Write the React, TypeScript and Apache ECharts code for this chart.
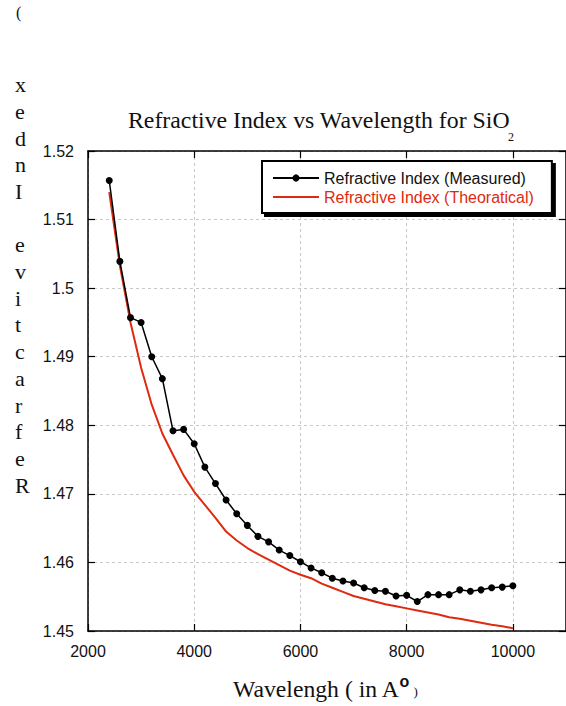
import React, { useEffect, useRef } from 'react';
import * as echarts from 'echarts';

const wavelengths = [
  2400, 2600, 2800, 3000, 3200, 3400, 3600, 3800, 4000, 4200,
  4400, 4600, 4800, 5000, 5200, 5400, 5600, 5800, 6000, 6200,
  6400, 6600, 6800, 7000, 7200, 7400, 7600, 7800, 8000, 8200,
  8400, 8600, 8800, 9000, 9200, 9400, 9600, 9800, 10000,
];

const measured = [
  1.5157, 1.5039, 1.4957, 1.4950, 1.4900, 1.4868, 1.4792, 1.4794, 1.4773, 1.4739,
  1.4715, 1.4691, 1.4671, 1.4654, 1.4638, 1.4630, 1.4618, 1.4610, 1.4601, 1.4592,
  1.4585, 1.4577, 1.4573, 1.4570, 1.4563, 1.4559, 1.4558, 1.4551, 1.4552, 1.4543,
  1.4553, 1.4553, 1.4553, 1.4560, 1.4558, 1.4560, 1.4563, 1.4564, 1.4566,
];

const theoretical = [
  1.5140, 1.5033, 1.4950, 1.4884, 1.4830, 1.4788, 1.4757, 1.4727, 1.4703, 1.4684,
  1.4665, 1.4645, 1.4632, 1.4621, 1.4612, 1.4604, 1.4596, 1.4588, 1.4582, 1.4577,
  1.4569, 1.4563, 1.4557, 1.4551, 1.4547, 1.4543, 1.4539, 1.4536, 1.4533, 1.4530,
  1.4527, 1.4524, 1.4520, 1.4518, 1.4515, 1.4512, 1.4509, 1.4507, 1.4504,
];

const seriesNames = ['Refractive Index (Measured)', 'Refractive Index (Theoratical)'];
const titleText = 'Refractive Index vs Wavelength for SiO';
const titleSub = '2';
const xNameText = 'Wavelengh ( in A';
const yNameChars = ['x', 'e', 'd', 'n', 'I', ' ', 'e', 'v', 'i', 't', 'c', 'a', 'r', 'f', 'e', 'R'];

const RED = '#dd2a10';
const SANS = '"Liberation Sans", Arial, sans-serif';
const SERIF = '"Liberation Serif", "Times New Roman", serif';

function txt(text: string, x: number, y: number, font: string, extra: any = {}) {
  return {
    type: 'text',
    x,
    y,
    silent: true,
    style: {
      text,
      font,
      fill: '#111',
      textAlign: 'left',
      align: 'left',
      textVerticalAlign: 'middle',
      verticalAlign: 'middle',
      ...extra,
    },
  };
}

export default function App() {
  const ref = useRef<HTMLDivElement>(null);

  useEffect(() => {
    if (!ref.current) return;
    const chart = echarts.init(ref.current, null, { renderer: 'svg' });

    const axisLine = { show: true, onZero: false, lineStyle: { color: '#000', width: 1.5 } };
    const axisTick = { show: true, inside: true, length: 7, lineStyle: { color: '#000', width: 1.2 } };
    const split = { show: true, lineStyle: { color: '#c8c8c8', type: [3, 3], width: 1 } };

    const option: any = {
      animation: false,
      backgroundColor: '#fff',
      grid: { left: 88, top: 151, width: 480, height: 480, containLabel: false },
      xAxis: [
        {
          type: 'value', min: 2000, max: 11000, interval: 2000, position: 'bottom',
          axisLine, axisTick,
          axisLabel: {
            margin: 12, fontFamily: SANS, fontSize: 16, color: '#111',
            showMaxLabel: false,
            formatter: (v: number) => (v > 10000 ? '' : String(v)),
          },
          splitLine: split,
        },
        {
          type: 'value', min: 2000, max: 11000, interval: 2000, position: 'top',
          axisLine, axisTick, axisLabel: { show: false }, splitLine: { show: false },
        },
      ],
      yAxis: [
        {
          type: 'value', min: 1.45, max: 1.52, interval: 0.01, position: 'left',
          axisLine, axisTick,
          axisLabel: {
            margin: 14, fontFamily: SANS, fontSize: 16, color: '#111',
            formatter: (v: number) => String(+v.toFixed(2)),
          },
          splitLine: split,
        },
        {
          type: 'value', min: 1.45, max: 1.52, interval: 0.01, position: 'right',
          axisLine, axisTick, axisLabel: { show: false }, splitLine: { show: false },
        },
      ],
      legend: {
        orient: 'vertical',
        left: 262,
        top: 161,
        itemWidth: 46,
        itemHeight: 9,
        itemGap: 3,
        padding: [9, 18, 8, 10],
        backgroundColor: '#fff',
        borderColor: '#000',
        borderWidth: 2,
        borderRadius: 0,
        shadowColor: '#000',
        shadowBlur: 0,
        shadowOffsetX: 3,
        shadowOffsetY: 3,
        selectedMode: false,
        textStyle: { fontFamily: SANS, fontSize: 16, color: '#111', lineHeight: 16 },
        data: [
          { name: seriesNames[0] },
          { name: seriesNames[1], textStyle: { color: RED }, itemStyle: { opacity: 0 } },
        ],
      },
      series: [
        {
          type: 'line',
          name: seriesNames[1],
          data: wavelengths.map((w, i) => [w, theoretical[i]]),
          symbol: 'none',
          showSymbol: false,
          lineStyle: { color: RED, width: 2 },
          itemStyle: { color: RED },
          z: 2,
        },
        {
          type: 'line',
          name: seriesNames[0],
          data: wavelengths.map((w, i) => [w, measured[i]]),
          symbol: 'circle',
          symbolSize: 7,
          lineStyle: { color: '#000', width: 1.5 },
          itemStyle: { color: '#000' },
          z: 3,
        },
      ],
      graphic: [
        txt(titleText, 128, 120, `23.8px ${SERIF}`),
        txt(titleSub, 508, 137, `12px ${SERIF}`),
        txt(xNameText, 233, 689, `23.7px ${SERIF}`),
        txt('o', 399.5, 681, `bold 16px ${SANS}`),
        txt(')', 413.5, 691, `13px ${SERIF}`),
        txt('(', 16, 12, `16px ${SERIF}`),
        txt(yNameChars.join('\n'), 15, 71.3, `22px ${SERIF}`, {
          lineHeight: 26.7,
          textVerticalAlign: 'top',
          verticalAlign: 'top',
        }),
      ],
    };

    chart.setOption(option);
    return () => chart.dispose();
  }, []);

  return (
    <div
      ref={ref}
      style={{ position: 'absolute', left: 0, top: 0, width: 566, height: 706, background: '#fff' }}
    />
  );
}
